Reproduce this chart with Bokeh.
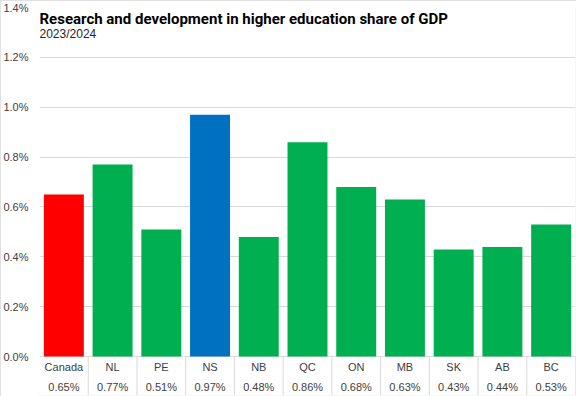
from bokeh.plotting import figure
from bokeh.models import Range1d, FixedTicker, PrintfTickFormatter, ColumnDataSource, Label
from bokeh.core.properties import value
from bokeh.embed import file_html
from bokeh.resources import INLINE

categories = ["Canada", "NL", "PE", "NS", "NB", "QC", "ON", "MB", "SK", "AB", "BC"]
shares = [0.65, 0.77, 0.51, 0.97, 0.48, 0.86, 0.68, 0.63, 0.43, 0.44, 0.53]
colors = ["#FF0000", "#00B050", "#00B050", "#0070C0", "#00B050", "#00B050",
          "#00B050", "#00B050", "#00B050", "#00B050", "#00B050"]
y_ticks = [0.0, 0.2, 0.4, 0.6, 0.8, 1.0, 1.2, 1.4]
title = "Research and development in higher education share of GDP"
subtitle = "2023/2024"

Y_MIN = -0.156
Y_MAX = 1.4
n = len(categories)
xs = list(range(n))

p = figure(width=576, height=396, output_backend="svg", toolbar_location=None,
           x_range=Range1d(-0.5, n - 0.5), y_range=Range1d(Y_MIN, Y_MAX),
           min_border_left=37, min_border_right=1, min_border_top=7, min_border_bottom=1)
p.styles = {"outline": "1px solid #D9D9D9", "outline-offset": "-1px"}
p.outline_line_color = None
p.background_fill_color = "white"
p.border_fill_color = "white"

p.xaxis.visible = False
p.xgrid.visible = False
p.yaxis.ticker = FixedTicker(ticks=y_ticks)
p.yaxis.formatter = PrintfTickFormatter(format="%.1f%%")
p.yaxis.axis_line_color = None
p.yaxis.major_tick_line_color = None
p.yaxis.minor_tick_line_color = None
p.yaxis.major_label_text_font = "Liberation Sans"
p.yaxis.major_label_text_font_size = "11px"
p.yaxis.major_label_text_color = "#404040"
p.yaxis.major_label_standoff = 5
p.ygrid.ticker = FixedTicker(ticks=y_ticks)
p.ygrid.grid_line_color = "#D9D9D9"
p.ygrid.grid_line_width = 1

src = ColumnDataSource(dict(x=xs, top=shares, color=colors, cat=categories,
                            lab=[f"{v:.2f}%" for v in shares]))
p.vbar(x="x", top="top", bottom=0, width=0.82, fill_color="color", line_color=None, source=src)

# data table below the axis
bx = [i + 0.5 for i in range(n)]
p.segment(x0=bx, x1=bx, y0=[0] * n, y1=[Y_MIN] * n, line_color="#D9D9D9", line_width=1)
p.text(x="x", y=-0.040, text="cat", source=src, text_align="center", text_baseline="middle",
       text_font=value("Liberation Sans"), text_font_size="11px", text_color="#404040")
p.text(x="x", y=-0.120, text="lab", source=src, text_align="center", text_baseline="middle",
       text_font=value("Liberation Sans"), text_font_size="11px", text_color="#404040")

p.add_layout(Label(x=-0.5, y=1.388, text=title, text_baseline="top", text_align="left",
                   text_font="Roboto", text_font_style="bold",
                   text_font_size="15px", text_color="#000000"))
p.add_layout(Label(x=-0.5, y=1.322, text=subtitle, text_baseline="top", text_align="left",
                   text_font="Liberation Sans", text_font_size="12px", text_color="#262626"))

open("out.html", "w").write(file_html(p, INLINE))
